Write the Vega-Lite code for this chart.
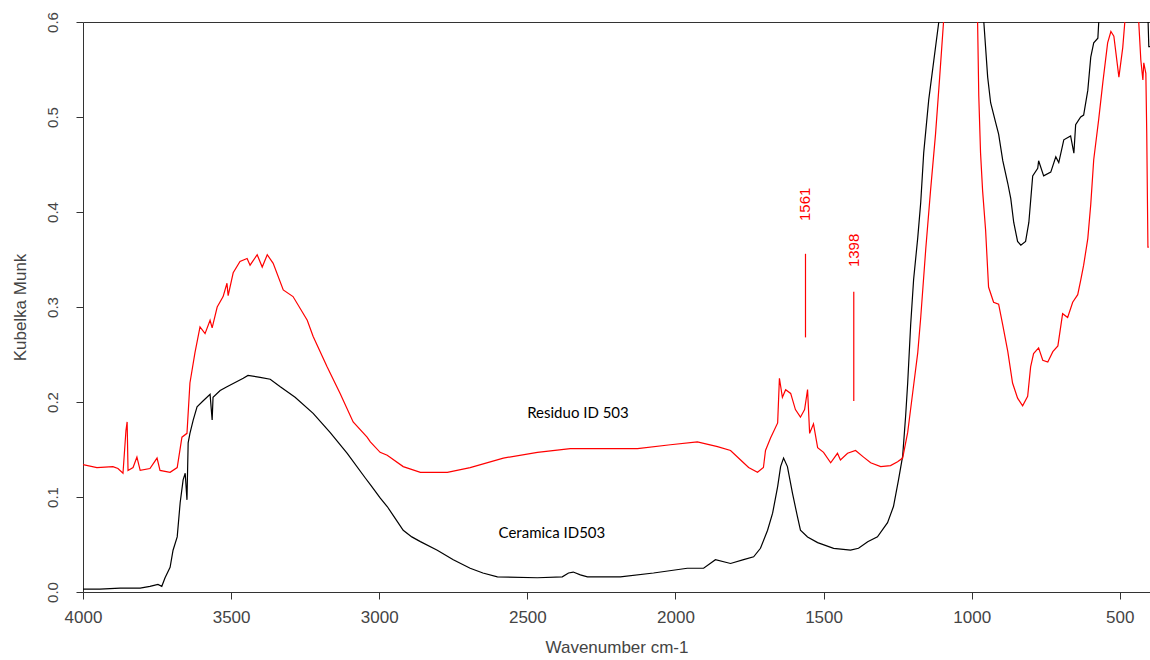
{
  "$schema": "https://vega.github.io/schema/vega-lite/v6.json",
  "autosize": "none",
  "width": 1067,
  "height": 570,
  "padding": {"left": 83, "top": 22, "right": 0, "bottom": 68},
  "background": "white",
  "config": {
    "view": {"stroke": "#333333", "strokeWidth": 1},
    "font": "Liberation Sans"
  },
  "layer": [
    {
      "data": {"values": [
        {"s":"Ceramica","x":4000,"y":0.003},{"s":"Ceramica","x":3943,"y":0.003},{"s":"Ceramica","x":3875,"y":0.004},{"s":"Ceramica","x":3807,"y":0.004},{"s":"Ceramica","x":3774,"y":0.006},{"s":"Ceramica","x":3747,"y":0.008},{"s":"Ceramica","x":3734,"y":0.006},{"s":"Ceramica","x":3723,"y":0.015},{"s":"Ceramica","x":3706,"y":0.026},{"s":"Ceramica","x":3696,"y":0.044},{"s":"Ceramica","x":3682,"y":0.058},{"s":"Ceramica","x":3672,"y":0.094},{"s":"Ceramica","x":3662,"y":0.118},{"s":"Ceramica","x":3655,"y":0.125},{"s":"Ceramica","x":3649,"y":0.097},{"s":"Ceramica","x":3645,"y":0.157},{"s":"Ceramica","x":3639,"y":0.167},{"s":"Ceramica","x":3628,"y":0.181},{"s":"Ceramica","x":3615,"y":0.195},{"s":"Ceramica","x":3595,"y":0.201},{"s":"Ceramica","x":3571,"y":0.208},{"s":"Ceramica","x":3564,"y":0.181},{"s":"Ceramica","x":3561,"y":0.205},{"s":"Ceramica","x":3537,"y":0.212},{"s":"Ceramica","x":3514,"y":0.216},{"s":"Ceramica","x":3459,"y":0.225},{"s":"Ceramica","x":3443,"y":0.228},{"s":"Ceramica","x":3402,"y":0.226},{"s":"Ceramica","x":3368,"y":0.224},{"s":"Ceramica","x":3334,"y":0.216},{"s":"Ceramica","x":3284,"y":0.205},{"s":"Ceramica","x":3223,"y":0.188},{"s":"Ceramica","x":3166,"y":0.168},{"s":"Ceramica","x":3108,"y":0.146},{"s":"Ceramica","x":3047,"y":0.120},{"s":"Ceramica","x":3030,"y":0.113},{"s":"Ceramica","x":2997,"y":0.099},{"s":"Ceramica","x":2973,"y":0.090},{"s":"Ceramica","x":2945,"y":0.077},{"s":"Ceramica","x":2919,"y":0.065},{"s":"Ceramica","x":2890,"y":0.058},{"s":"Ceramica","x":2861,"y":0.053},{"s":"Ceramica","x":2804,"y":0.044},{"s":"Ceramica","x":2750,"y":0.034},{"s":"Ceramica","x":2693,"y":0.025},{"s":"Ceramica","x":2650,"y":0.020},{"s":"Ceramica","x":2601,"y":0.016},{"s":"Ceramica","x":2466,"y":0.015},{"s":"Ceramica","x":2382,"y":0.016},{"s":"Ceramica","x":2361,"y":0.020},{"s":"Ceramica","x":2345,"y":0.021},{"s":"Ceramica","x":2321,"y":0.018},{"s":"Ceramica","x":2297,"y":0.016},{"s":"Ceramica","x":2186,"y":0.016},{"s":"Ceramica","x":2074,"y":0.020},{"s":"Ceramica","x":1960,"y":0.025},{"s":"Ceramica","x":1905,"y":0.025},{"s":"Ceramica","x":1865,"y":0.034},{"s":"Ceramica","x":1814,"y":0.030},{"s":"Ceramica","x":1770,"y":0.034},{"s":"Ceramica","x":1736,"y":0.037},{"s":"Ceramica","x":1713,"y":0.046},{"s":"Ceramica","x":1689,"y":0.065},{"s":"Ceramica","x":1672,"y":0.083},{"s":"Ceramica","x":1655,"y":0.111},{"s":"Ceramica","x":1645,"y":0.132},{"s":"Ceramica","x":1635,"y":0.141},{"s":"Ceramica","x":1622,"y":0.132},{"s":"Ceramica","x":1605,"y":0.104},{"s":"Ceramica","x":1588,"y":0.079},{"s":"Ceramica","x":1578,"y":0.065},{"s":"Ceramica","x":1554,"y":0.058},{"s":"Ceramica","x":1520,"y":0.052},{"s":"Ceramica","x":1466,"y":0.046},{"s":"Ceramica","x":1409,"y":0.044},{"s":"Ceramica","x":1382,"y":0.046},{"s":"Ceramica","x":1351,"y":0.053},{"s":"Ceramica","x":1318,"y":0.058},{"s":"Ceramica","x":1284,"y":0.073},{"s":"Ceramica","x":1264,"y":0.090},{"s":"Ceramica","x":1247,"y":0.118},{"s":"Ceramica","x":1233,"y":0.143},{"s":"Ceramica","x":1223,"y":0.185},{"s":"Ceramica","x":1216,"y":0.220},{"s":"Ceramica","x":1206,"y":0.281},{"s":"Ceramica","x":1196,"y":0.329},{"s":"Ceramica","x":1182,"y":0.373},{"s":"Ceramica","x":1172,"y":0.410},{"s":"Ceramica","x":1162,"y":0.462},{"s":"Ceramica","x":1145,"y":0.518},{"s":"Ceramica","x":1128,"y":0.559},{"s":"Ceramica","x":1111,"y":0.600},{"s":"Ceramica","x":1088,"y":0.68},{"s":"Ceramica","x":1037,"y":0.75},{"s":"Ceramica","x":987,"y":0.70},{"s":"Ceramica","x":959,"y":0.600},{"s":"Ceramica","x":946,"y":0.542},{"s":"Ceramica","x":936,"y":0.515},{"s":"Ceramica","x":919,"y":0.494},{"s":"Ceramica","x":909,"y":0.482},{"s":"Ceramica","x":895,"y":0.454},{"s":"Ceramica","x":878,"y":0.430},{"s":"Ceramica","x":868,"y":0.414},{"s":"Ceramica","x":858,"y":0.389},{"s":"Ceramica","x":845,"y":0.369},{"s":"Ceramica","x":834,"y":0.365},{"s":"Ceramica","x":818,"y":0.369},{"s":"Ceramica","x":807,"y":0.389},{"s":"Ceramica","x":794,"y":0.438},{"s":"Ceramica","x":777,"y":0.446},{"s":"Ceramica","x":774,"y":0.454},{"s":"Ceramica","x":757,"y":0.438},{"s":"Ceramica","x":733,"y":0.442},{"s":"Ceramica","x":716,"y":0.458},{"s":"Ceramica","x":706,"y":0.452},{"s":"Ceramica","x":689,"y":0.476},{"s":"Ceramica","x":666,"y":0.480},{"s":"Ceramica","x":655,"y":0.462},{"s":"Ceramica","x":649,"y":0.492},{"s":"Ceramica","x":632,"y":0.500},{"s":"Ceramica","x":622,"y":0.502},{"s":"Ceramica","x":608,"y":0.528},{"s":"Ceramica","x":598,"y":0.563},{"s":"Ceramica","x":588,"y":0.578},{"s":"Ceramica","x":574,"y":0.583},{"s":"Ceramica","x":571,"y":0.600},{"s":"Ceramica","x":547,"y":0.68},{"s":"Ceramica","x":463,"y":0.70},{"s":"Ceramica","x":409,"y":0.65},{"s":"Ceramica","x":402,"y":0.574},{"s":"Ceramica","x":398,"y":0.574},
        {"s":"Residuo","x":4000,"y":0.134},{"s":"Residuo","x":3953,"y":0.131},{"s":"Residuo","x":3899,"y":0.132},{"s":"Residuo","x":3882,"y":0.130},{"s":"Residuo","x":3865,"y":0.125},{"s":"Residuo","x":3855,"y":0.170},{"s":"Residuo","x":3851,"y":0.179},{"s":"Residuo","x":3848,"y":0.128},{"s":"Residuo","x":3831,"y":0.131},{"s":"Residuo","x":3818,"y":0.142},{"s":"Residuo","x":3807,"y":0.128},{"s":"Residuo","x":3774,"y":0.130},{"s":"Residuo","x":3750,"y":0.141},{"s":"Residuo","x":3740,"y":0.128},{"s":"Residuo","x":3706,"y":0.126},{"s":"Residuo","x":3682,"y":0.131},{"s":"Residuo","x":3666,"y":0.163},{"s":"Residuo","x":3649,"y":0.167},{"s":"Residuo","x":3639,"y":0.220},{"s":"Residuo","x":3622,"y":0.252},{"s":"Residuo","x":3605,"y":0.279},{"s":"Residuo","x":3588,"y":0.272},{"s":"Residuo","x":3571,"y":0.286},{"s":"Residuo","x":3564,"y":0.278},{"s":"Residuo","x":3547,"y":0.300},{"s":"Residuo","x":3527,"y":0.311},{"s":"Residuo","x":3514,"y":0.325},{"s":"Residuo","x":3510,"y":0.312},{"s":"Residuo","x":3493,"y":0.336},{"s":"Residuo","x":3470,"y":0.348},{"s":"Residuo","x":3446,"y":0.351},{"s":"Residuo","x":3436,"y":0.344},{"s":"Residuo","x":3412,"y":0.355},{"s":"Residuo","x":3395,"y":0.342},{"s":"Residuo","x":3378,"y":0.355},{"s":"Residuo","x":3358,"y":0.346},{"s":"Residuo","x":3324,"y":0.318},{"s":"Residuo","x":3291,"y":0.311},{"s":"Residuo","x":3243,"y":0.286},{"s":"Residuo","x":3223,"y":0.269},{"s":"Residuo","x":3176,"y":0.237},{"s":"Residuo","x":3132,"y":0.209},{"s":"Residuo","x":3088,"y":0.179},{"s":"Residuo","x":3041,"y":0.163},{"s":"Residuo","x":3030,"y":0.158},{"s":"Residuo","x":2997,"y":0.147},{"s":"Residuo","x":2973,"y":0.144},{"s":"Residuo","x":2919,"y":0.132},{"s":"Residuo","x":2861,"y":0.126},{"s":"Residuo","x":2770,"y":0.126},{"s":"Residuo","x":2693,"y":0.131},{"s":"Residuo","x":2581,"y":0.141},{"s":"Residuo","x":2466,"y":0.147},{"s":"Residuo","x":2355,"y":0.151},{"s":"Residuo","x":2243,"y":0.151},{"s":"Residuo","x":2128,"y":0.151},{"s":"Residuo","x":2017,"y":0.155},{"s":"Residuo","x":1926,"y":0.158},{"s":"Residuo","x":1858,"y":0.153},{"s":"Residuo","x":1814,"y":0.149},{"s":"Residuo","x":1780,"y":0.139},{"s":"Residuo","x":1753,"y":0.131},{"s":"Residuo","x":1723,"y":0.126},{"s":"Residuo","x":1703,"y":0.131},{"s":"Residuo","x":1696,"y":0.149},{"s":"Residuo","x":1679,"y":0.162},{"s":"Residuo","x":1655,"y":0.178},{"s":"Residuo","x":1649,"y":0.225},{"s":"Residuo","x":1639,"y":0.205},{"s":"Residuo","x":1628,"y":0.213},{"s":"Residuo","x":1611,"y":0.209},{"s":"Residuo","x":1595,"y":0.192},{"s":"Residuo","x":1578,"y":0.184},{"s":"Residuo","x":1564,"y":0.192},{"s":"Residuo","x":1554,"y":0.213},{"s":"Residuo","x":1547,"y":0.167},{"s":"Residuo","x":1534,"y":0.177},{"s":"Residuo","x":1520,"y":0.152},{"s":"Residuo","x":1500,"y":0.147},{"s":"Residuo","x":1476,"y":0.136},{"s":"Residuo","x":1453,"y":0.146},{"s":"Residuo","x":1443,"y":0.139},{"s":"Residuo","x":1419,"y":0.146},{"s":"Residuo","x":1392,"y":0.149},{"s":"Residuo","x":1365,"y":0.142},{"s":"Residuo","x":1341,"y":0.136},{"s":"Residuo","x":1307,"y":0.132},{"s":"Residuo","x":1274,"y":0.133},{"s":"Residuo","x":1250,"y":0.137},{"s":"Residuo","x":1233,"y":0.141},{"s":"Residuo","x":1216,"y":0.168},{"s":"Residuo","x":1199,"y":0.210},{"s":"Residuo","x":1182,"y":0.252},{"s":"Residuo","x":1172,"y":0.289},{"s":"Residuo","x":1155,"y":0.361},{"s":"Residuo","x":1139,"y":0.422},{"s":"Residuo","x":1122,"y":0.482},{"s":"Residuo","x":1108,"y":0.542},{"s":"Residuo","x":1095,"y":0.600},{"s":"Residuo","x":1054,"y":0.70},{"s":"Residuo","x":1003,"y":0.70},{"s":"Residuo","x":980,"y":0.600},{"s":"Residuo","x":976,"y":0.522},{"s":"Residuo","x":970,"y":0.462},{"s":"Residuo","x":963,"y":0.422},{"s":"Residuo","x":953,"y":0.381},{"s":"Residuo","x":943,"y":0.321},{"s":"Residuo","x":926,"y":0.305},{"s":"Residuo","x":909,"y":0.303},{"s":"Residuo","x":895,"y":0.281},{"s":"Residuo","x":878,"y":0.253},{"s":"Residuo","x":862,"y":0.220},{"s":"Residuo","x":845,"y":0.204},{"s":"Residuo","x":828,"y":0.196},{"s":"Residuo","x":811,"y":0.206},{"s":"Residuo","x":801,"y":0.237},{"s":"Residuo","x":791,"y":0.251},{"s":"Residuo","x":774,"y":0.257},{"s":"Residuo","x":760,"y":0.244},{"s":"Residuo","x":743,"y":0.242},{"s":"Residuo","x":726,"y":0.253},{"s":"Residuo","x":709,"y":0.259},{"s":"Residuo","x":693,"y":0.293},{"s":"Residuo","x":676,"y":0.289},{"s":"Residuo","x":659,"y":0.305},{"s":"Residuo","x":642,"y":0.313},{"s":"Residuo","x":632,"y":0.328},{"s":"Residuo","x":622,"y":0.344},{"s":"Residuo","x":608,"y":0.372},{"s":"Residuo","x":598,"y":0.408},{"s":"Residuo","x":588,"y":0.455},{"s":"Residuo","x":571,"y":0.498},{"s":"Residuo","x":557,"y":0.537},{"s":"Residuo","x":541,"y":0.578},{"s":"Residuo","x":530,"y":0.590},{"s":"Residuo","x":520,"y":0.585},{"s":"Residuo","x":503,"y":0.542},{"s":"Residuo","x":490,"y":0.573},{"s":"Residuo","x":483,"y":0.600},{"s":"Residuo","x":463,"y":0.65},{"s":"Residuo","x":436,"y":0.600},{"s":"Residuo","x":429,"y":0.560},{"s":"Residuo","x":422,"y":0.539},{"s":"Residuo","x":419,"y":0.557},{"s":"Residuo","x":412,"y":0.546},{"s":"Residuo","x":409,"y":0.483},{"s":"Residuo","x":405,"y":0.363},{"s":"Residuo","x":402,"y":0.363}
      ]},
      "mark": {"type": "line", "clip": true, "strokeWidth": 1.2, "interpolate": "linear"},
      "encoding": {
        "x": {
          "field": "x", "type": "quantitative",
          "scale": {"domain": [4000, 398], "nice": false, "zero": false},
          "axis": {
            "values": [4000, 3500, 3000, 2500, 2000, 1500, 1000, 500], "format": "d",
            "title": "Wavenumber cm-1", "grid": false, "domain": false,
            "tickSize": 7, "tickColor": "#333333",
            "labelFont": "Liberation Sans", "labelFontSize": 17, "labelColor": "#444444", "labelPadding": 10,
            "titleFont": "Liberation Sans", "titleFontSize": 17, "titleFontWeight": "normal", "titleColor": "#444444", "titlePadding": 14,
            "labelFlush": false
          }
        },
        "y": {
          "field": "y", "type": "quantitative",
          "scale": {"domain": [0, 0.6], "nice": false, "zero": true},
          "axis": {
            "values": [0, 0.1, 0.2, 0.3, 0.4, 0.5, 0.6], "format": ".1f",
            "title": "Kubelka Munk", "grid": false, "domain": false,
            "tickSize": 7, "tickColor": "#333333",
            "labelAngle": -90, "labelAlign": "center", "labelBaseline": "alphabetic",
            "labelFont": "Liberation Sans", "labelFontSize": 15, "labelColor": "#444444", "labelPadding": 19,
            "titleFont": "Liberation Sans", "titleFontSize": 17, "titleFontWeight": "normal", "titleColor": "#444444", "titlePadding": 16,
            "labelFlush": false
          }
        },
        "color": {"field": "s", "type": "nominal", "scale": {"domain": ["Ceramica", "Residuo"], "range": ["#000000", "#ff0000"]}, "legend": null},
        "detail": {"field": "s"}
      }
    },
    {
      "data": {"values": [
        {"x": 1561, "y1": 0.268, "y2": 0.356},
        {"x": 1398, "y1": 0.201, "y2": 0.316}
      ]},
      "mark": {"type": "rule", "color": "#ff0000", "strokeWidth": 1.2},
      "encoding": {
        "x": {"field": "x", "type": "quantitative"},
        "y": {"field": "y1", "type": "quantitative"},
        "y2": {"field": "y2"}
      }
    },
    {
      "data": {"values": [
        {"x": 1561, "y": 0.3905, "label": "1561"},
        {"x": 1398, "y": 0.342, "label": "1398"}
      ]},
      "mark": {"type": "text", "color": "#ff0000", "angle": 270, "align": "left", "baseline": "middle", "font": "Liberation Sans", "fontSize": 15},
      "encoding": {
        "x": {"field": "x", "type": "quantitative"},
        "y": {"field": "y", "type": "quantitative"},
        "text": {"field": "label"}
      }
    },
    {
      "data": {"values": [
        {"x": 2329, "y": 0.1884, "label": "Residuo ID 503"},
        {"x": 2417, "y": 0.0621, "label": "Ceramica ID503"}
      ]},
      "mark": {"type": "text", "color": "#000000", "align": "center", "baseline": "middle", "font": "Lato", "fontSize": 15},
      "encoding": {
        "x": {"field": "x", "type": "quantitative"},
        "y": {"field": "y", "type": "quantitative"},
        "text": {"field": "label"}
      }
    }
  ]
}
